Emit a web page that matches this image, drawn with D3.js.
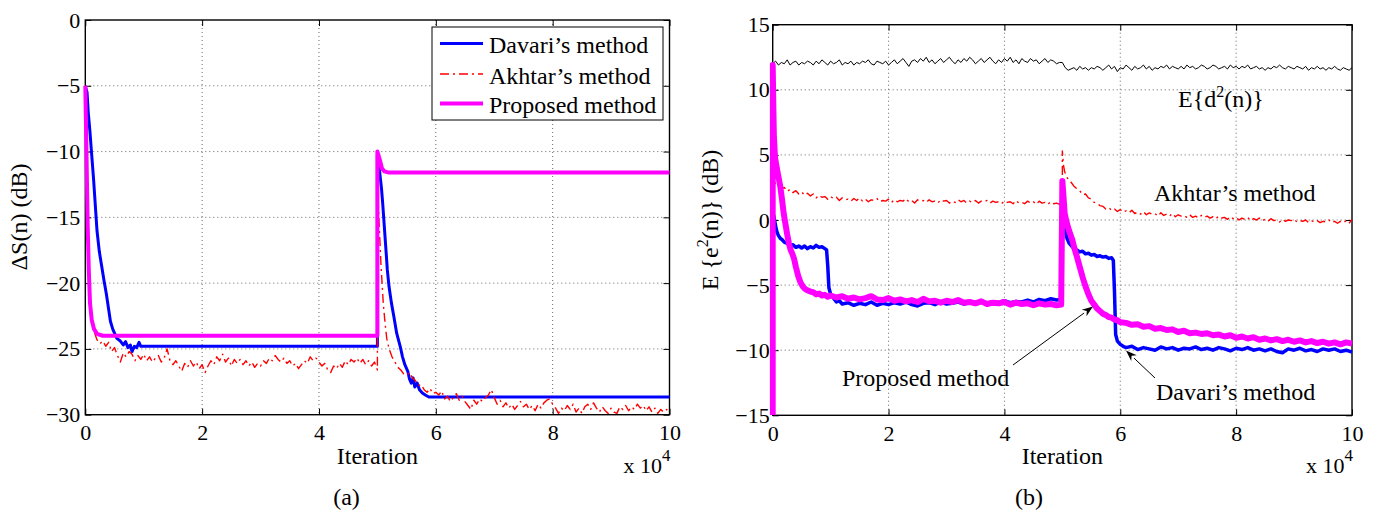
<!DOCTYPE html>
<html>
<head>
<meta charset="utf-8">
<script src="https://cdn.jsdelivr.net/npm/d3@7"></script>
<style>
  body { margin: 0; background: #fff; }
  svg { display: block; }
  text { font-family: "Liberation Serif", "Times New Roman", serif; fill: #000; }
</style>
</head>
<body>
<svg id="fig" width="1378" height="512"></svg>
<script>
// ---------- shared ticks (x in units of 10^4 iterations) ----------
const xTicks = [0, 2, 4, 6, 8, 10];
const yTicksA = [-30, -25, -20, -15, -10, -5, 0];
const yTicksB = [-15, -10, -5, 0, 5, 10, 15];

// ---------- panel (a): ΔS(n) in dB ----------
const davariA = [[0,-5],[0.03,-5.5],[0.05,-7],[0.08,-8.5],[0.1,-9.7],[0.14,-12],[0.17,-14],[0.2,-16],[0.24,-17.6],
  [0.28,-18.7],[0.32,-19.8],[0.36,-20.8],[0.4,-22],[0.43,-22.9],[0.47,-23.5],[0.54,-24.2],[0.6,-24.4],[0.65,-24.7],
  [0.69,-24.45],[0.73,-24.9],[0.77,-24.7],[0.8,-25.2],[0.84,-24.8],[0.88,-24.9],[0.92,-24.5],[0.95,-24.8],[5.0,-24.8],
  [5.0,-10.2],[5.02,-10.5],[5.04,-11.6],[5.07,-12.8],[5.09,-13.9],[5.12,-15.8],[5.15,-17.7],[5.17,-19],[5.2,-20.3],
  [5.24,-21.5],[5.28,-22.5],[5.33,-23.8],[5.39,-24.8],[5.43,-25.6],[5.47,-26.2],[5.52,-26.7],[5.55,-27.3],[5.58,-27.6],
  [5.61,-27.2],[5.64,-27.9],[5.68,-27.6],[5.72,-28.1],[5.77,-28.35],[5.82,-28.5],[5.88,-28.65],[10,-28.65]];

const akhtarA = [[0,-5],[0.02,-9],[0.04,-13.5],[0.06,-17.5],[0.08,-20.5],[0.1,-22.2],[0.13,-23.3],[0.16,-23.8],
  [0.2,-24.3],[0.25,-24.6],[0.3,-24.4],[0.35,-24.8],[0.4,-24.5],[0.45,-25.2],[0.5,-24.9],[0.55,-25.5],[0.6,-26.0],
  [0.65,-25.3],[0.7,-25.6],[0.75,-25.2],[0.8,-25.4],[0.85,-25.9],[0.9,-25.5],[0.95,-25.8],[1.0,-25.4],[1.05,-25.9],
  [1.1,-25.6],[1.15,-26.0],[1.2,-25.7],[1.25,-25.5],[1.3,-26.0],[1.35,-25.7],[1.4,-25.0],[1.45,-25.9],[1.5,-26.2],
  [1.55,-25.9],[1.6,-26.3],[1.65,-26.7],[1.7,-26.1],[1.75,-26.4],[1.8,-25.9],[1.85,-26.3],[1.9,-26.0],[1.95,-26.5],
  [2.0,-26.2],[2.05,-26.8],[2.1,-26.3],[2.15,-25.9],[2.2,-26.2],[2.25,-25.6],[2.3,-25.9],[2.35,-25.4],[2.4,-26.0],
  [2.45,-25.7],[2.5,-26.3],[2.55,-25.8],[2.6,-26.1],[2.65,-25.8],[2.7,-26.2],[2.75,-25.9],[2.8,-26.3],[2.85,-26.0],
  [2.9,-26.4],[2.95,-26.1],[3.0,-26.3],[3.05,-25.9],[3.1,-26.1],[3.15,-25.7],[3.2,-25.9],[3.25,-25.5],[3.3,-25.8],
  [3.35,-26.0],[3.4,-25.7],[3.45,-26.1],[3.5,-25.9],[3.55,-26.3],[3.6,-26.1],[3.65,-26.5],[3.7,-26.2],[3.75,-25.9],
  [3.8,-26.1],[3.85,-25.6],[3.9,-25.9],[3.95,-25.7],[4.0,-26.0],[4.05,-26.3],[4.1,-26.1],[4.15,-26.6],[4.2,-26.8],
  [4.25,-26.3],[4.3,-26.5],[4.35,-26.1],[4.4,-26.4],[4.45,-25.9],[4.5,-26.2],[4.55,-25.8],[4.6,-26.0],[4.65,-25.7],
  [4.7,-26.1],[4.75,-25.8],[4.8,-26.2],[4.85,-25.9],[4.9,-26.3],[4.95,-26.0],[5.0,-26.6],
  [5.0,-12],[5.02,-14.5],[5.04,-16.5],[5.06,-18.5],[5.08,-20],[5.1,-21.5],[5.13,-23],[5.16,-24.2],[5.2,-25],
  [5.25,-25.6],[5.3,-26],[5.35,-26.4],[5.4,-26.6],[5.45,-26.9],[5.5,-27.0],[5.55,-26.8],[5.6,-27.2],[5.65,-27.4],
  [5.7,-27.8],[5.75,-27.7],[5.8,-28.1],[5.85,-28.3],[5.9,-28.0],[5.95,-28.4],[6.0,-28.3],[6.05,-28.5],[6.1,-28.2],
  [6.15,-28.8],[6.2,-28.6],[6.25,-29.0],[6.3,-28.7],[6.35,-28.4],[6.4,-28.9],[6.45,-28.6],[6.5,-29.0],[6.55,-29.3],
  [6.6,-29.6],[6.65,-28.9],[6.7,-29.2],[6.75,-28.8],[6.8,-29.0],[6.85,-28.7],[6.9,-28.5],[6.95,-28.1],[7.0,-28.7],
  [7.05,-29.2],[7.1,-28.9],[7.15,-29.4],[7.2,-29.1],[7.25,-29.5],[7.3,-29.2],[7.35,-29.6],[7.4,-29.3],[7.45,-29.0],
  [7.5,-29.4],[7.55,-29.2],[7.6,-29.6],[7.65,-29.3],[7.7,-29.7],[7.75,-29.2],[7.8,-29.5],[7.85,-29.1],[7.9,-28.9],
  [7.95,-28.8],[8.0,-29.2],[8.05,-29.5],[8.1,-29.9],[8.15,-29.5],[8.2,-29.7],[8.25,-29.3],[8.3,-29.6],[8.35,-29.2],
  [8.4,-29.8],[8.45,-29.5],[8.5,-29.9],[8.55,-29.4],[8.6,-29.2],[8.65,-29.6],[8.7,-29.1],[8.75,-29.5],[8.8,-29.8],
  [8.85,-29.4],[8.9,-29.7],[8.95,-29.9],[9.0,-29.5],[9.05,-29.8],[9.1,-29.9],[9.15,-29.4],[9.2,-29.6],[9.25,-29.3],
  [9.3,-29.7],[9.35,-29.4],[9.4,-29.6],[9.45,-29.2],[9.5,-29.5],[9.55,-29.3],[9.6,-29.7],[9.65,-29.4],[9.7,-29.8],
  [9.75,-29.5],[9.8,-29.9],[9.85,-29.6],[9.9,-29.8],[9.95,-29.6],[10.0,-29.9]];

const proposedA = [[0,-5],[0.02,-10],[0.04,-15.5],[0.06,-19],[0.08,-21.5],[0.11,-22.8],[0.15,-23.5],[0.2,-23.85],
  [0.3,-24],[5.0,-24],[5.0,-10],[5.04,-10.6],[5.08,-11.3],[5.12,-11.5],[5.2,-11.6],[10,-11.6]];

// ---------- panel (b): E{e^2(n)} in dB ----------
const desiredB = [[0,12.0],[0.05,12.2],[0.1,11.9],[0.15,12.1],[0.2,12.0],[0.25,12.3],[0.3,11.9],[0.35,12.1],[0.4,12.2],[0.45,11.9],
  [0.5,12.1],[0.55,12.0],[0.6,12.2],[0.65,12.1],[0.7,11.9],[0.75,12.2],[0.8,12.0],[0.85,12.3],[0.9,12.1],[0.95,11.9],
  [1.0,12.2],[1.05,12.0],[1.1,12.1],[1.15,12.3],[1.2,11.9],[1.25,12.1],[1.3,12.0],[1.35,12.2],[1.4,11.9],[1.45,12.1],
  [1.5,12.0],[1.55,12.2],[1.6,12.1],[1.65,12.3],[1.7,12.0],[1.75,11.9],[1.8,12.2],[1.85,12.1],[1.9,12.0],[1.95,12.2],
  [2.0,11.9],[2.05,12.1],[2.1,12.3],[2.15,12.0],[2.2,12.2],[2.25,12.4],[2.3,12.1],[2.35,11.8],[2.4,12.2],[2.45,12.3],
  [2.5,12.1],[2.55,12.4],[2.6,12.2],[2.65,12.5],[2.7,12.1],[2.75,12.3],[2.8,12.0],[2.85,12.2],[2.9,12.4],[2.95,12.1],
  [3.0,12.3],[3.05,12.5],[3.1,12.2],[3.15,12.0],[3.2,12.3],[3.25,12.1],[3.3,12.4],[3.35,12.2],[3.4,12.5],[3.45,12.3],
  [3.5,12.0],[3.55,12.2],[3.6,12.4],[3.65,12.1],[3.7,12.3],[3.75,12.5],[3.8,12.2],[3.85,12.0],[3.9,12.3],[3.95,12.1],
  [4.0,12.4],[4.05,12.2],[4.1,12.5],[4.15,12.1],[4.2,12.3],[4.25,12.0],[4.3,12.4],[4.35,12.2],[4.4,12.1],[4.45,12.4],
  [4.5,12.2],[4.55,12.3],[4.6,12.0],[4.65,12.2],[4.7,12.4],[4.75,12.1],[4.8,12.3],[4.85,12.2],[4.9,12.0],[4.95,12.1],
  [5.0,12.1],[5.05,11.7],[5.1,11.5],[5.15,11.6],[5.2,11.7],[5.25,11.5],[5.3,11.8],[5.35,11.6],[5.4,11.7],[5.45,11.5],[5.5,11.7],
  [5.55,11.6],[5.6,11.8],[5.65,11.7],[5.7,11.5],[5.75,11.7],[5.8,11.9],[5.85,11.6],[5.9,11.8],[5.95,11.4],[6.0,11.7],
  [6.05,11.6],[6.1,11.9],[6.15,11.7],[6.2,11.5],[6.25,11.8],[6.3,11.6],[6.35,11.7],[6.4,11.9],[6.45,11.6],[6.5,11.8],
  [6.55,11.5],[6.6,11.7],[6.65,11.6],[6.7,11.8],[6.75,11.7],[6.8,11.9],[6.85,11.6],[6.9,11.8],[6.95,11.7],[7.0,11.6],
  [7.05,11.8],[7.1,11.6],[7.15,11.9],[7.2,11.7],[7.25,11.8],[7.3,11.6],[7.35,11.7],[7.4,11.9],[7.45,11.8],[7.5,11.6],
  [7.55,11.7],[7.6,11.9],[7.65,11.8],[7.7,11.6],[7.75,11.7],[7.8,11.8],[7.85,11.6],[7.9,11.9],[7.95,11.7],[8.0,11.8],
  [8.05,11.6],[8.1,11.8],[8.15,11.7],[8.2,11.9],[8.25,11.6],[8.3,11.7],[8.35,11.8],[8.4,11.6],[8.45,11.7],[8.5,11.5],
  [8.55,11.7],[8.6,11.6],[8.65,11.8],[8.7,11.7],[8.75,11.9],[8.8,11.7],[8.85,11.6],[8.9,11.8],[8.95,11.7],[9.0,11.6],
  [9.05,11.8],[9.1,11.7],[9.15,11.6],[9.2,11.8],[9.25,11.5],[9.3,11.7],[9.35,11.6],[9.4,11.8],[9.45,11.6],[9.5,11.7],
  [9.55,11.5],[9.6,11.7],[9.65,11.6],[9.7,11.8],[9.75,11.6],[9.8,11.5],[9.85,11.7],[9.9,11.6],[9.95,11.5],[10.0,11.7]];

const akhtarB = [[0,3.9],[0.02,3.2],[0.05,2.7],[0.1,2.6],[0.15,2.4],[0.2,2.5],[0.25,2.2],[0.3,2.35],[0.35,2.1],[0.4,2.25],
  [0.45,2.0],[0.5,2.15],[0.55,1.9],[0.6,2.05],[0.65,1.85],[0.7,2.0],[0.75,1.7],[0.8,1.9],[0.85,1.75],[0.9,1.8],
  [0.95,1.6],[1.0,1.8],[1.05,1.65],[1.1,1.75],[1.15,1.5],[1.2,1.7],[1.25,1.55],[1.3,1.6],[1.35,1.45],[1.4,1.65],
  [1.45,1.5],[1.5,1.7],[1.55,1.45],[1.6,1.6],[1.65,1.4],[1.7,1.55],[1.75,1.5],[1.8,1.65],[1.85,1.4],[1.9,1.5],
  [1.95,1.45],[2.0,1.6],[2.05,1.35],[2.1,1.55],[2.15,1.4],[2.2,1.5],[2.25,1.45],[2.3,1.65],[2.35,1.4],[2.4,1.5],
  [2.45,1.3],[2.5,1.55],[2.55,1.45],[2.6,1.5],[2.65,1.35],[2.7,1.55],[2.75,1.4],[2.8,1.45],[2.85,1.3],[2.9,1.55],
  [2.95,1.45],[3.0,1.5],[3.05,1.3],[3.1,1.45],[3.15,1.35],[3.2,1.55],[3.25,1.4],[3.3,1.5],[3.35,1.3],[3.4,1.45],
  [3.45,1.35],[3.5,1.5],[3.55,1.3],[3.6,1.45],[3.65,1.4],[3.7,1.5],[3.75,1.3],[3.8,1.45],[3.85,1.35],[3.9,1.4],
  [3.95,1.25],[4.0,1.45],[4.05,1.35],[4.1,1.4],[4.15,1.25],[4.2,1.5],[4.25,1.3],[4.3,1.35],[4.35,1.25],[4.4,1.45],
  [4.45,1.3],[4.5,1.4],[4.55,1.2],[4.6,1.45],[4.65,1.3],[4.7,1.35],[4.75,1.2],[4.8,1.4],[4.85,1.25],[4.9,1.3],
  [4.95,1.2],[5.0,1.3],[5.0,5.3],[5.02,4.2],[5.04,3.7],[5.07,3.4],[5.1,3.1],[5.15,2.9],[5.2,2.6],[5.25,2.4],
  [5.3,2.25],[5.35,1.95],[5.4,2.0],[5.45,1.7],[5.5,1.6],[5.55,1.35],[5.6,1.3],[5.65,1.1],[5.7,1.05],[5.75,0.85],
  [5.8,0.95],[5.85,0.75],[5.9,0.85],[5.95,0.65],[6.0,0.8],[6.05,0.6],[6.1,0.7],[6.15,0.55],[6.2,0.75],[6.25,0.5],
  [6.3,0.6],[6.35,0.45],[6.4,0.65],[6.45,0.4],[6.5,0.55],[6.55,0.45],[6.6,0.5],[6.65,0.3],[6.7,0.55],[6.75,0.35],
  [6.8,0.45],[6.85,0.3],[6.9,0.5],[6.95,0.25],[7.0,0.4],[7.05,0.3],[7.1,0.35],[7.15,0.2],[7.2,0.4],[7.25,0.2],
  [7.3,0.3],[7.35,0.15],[7.4,0.35],[7.45,0.2],[7.5,0.3],[7.55,0.15],[7.6,0.25],[7.65,0.1],[7.7,0.3],[7.75,0.15],
  [7.8,0.2],[7.85,0.05],[7.9,0.25],[7.95,0.1],[8.0,0.2],[8.05,0.0],[8.1,0.15],[8.15,0.05],[8.2,0.2],[8.25,-0.05],
  [8.3,0.1],[8.35,0.0],[8.4,0.15],[8.45,-0.05],[8.5,0.05],[8.55,-0.1],[8.6,0.1],[8.65,-0.05],[8.7,0.0],[8.75,-0.15],
  [8.8,0.05],[8.85,-0.1],[8.9,0.0],[8.95,-0.05],[9.0,0.05],[9.05,-0.15],[9.1,-0.05],[9.15,-0.1],[9.2,0.0],[9.25,-0.2],
  [9.3,-0.05],[9.35,-0.15],[9.4,-0.05],[9.45,-0.2],[9.5,-0.1],[9.55,-0.15],[9.6,0.0],[9.65,-0.2],[9.7,-0.1],[9.75,-0.25],
  [9.8,-0.1],[9.85,-0.2],[9.9,-0.05],[9.95,-0.25],[10.0,0.05]];

const davariB = [[0,0.5],[0.02,0.3],[0.04,-0.2],[0.06,-0.7],[0.08,-1.0],[0.1,-1.2],[0.13,-1.4],[0.16,-1.5],[0.2,-1.7],
  [0.25,-1.8],[0.3,-1.95],[0.35,-1.9],[0.4,-2.1],[0.45,-2.0],[0.5,-2.15],[0.55,-2.0],[0.6,-2.2],[0.65,-2.05],[0.7,-2.15],
  [0.75,-1.95],[0.8,-2.1],[0.85,-2.05],[0.9,-2.2],[0.93,-2.3],[0.95,-3.5],[0.97,-5.2],[1.0,-5.7],[1.05,-6.0],[1.1,-6.3],
  [1.15,-6.2],[1.2,-6.45],[1.3,-6.35],[1.4,-6.55],[1.5,-6.4],[1.6,-6.5],[1.7,-6.3],[1.8,-6.55],[1.9,-6.4],[2.0,-6.5],
  [2.1,-6.35],[2.2,-6.45],[2.3,-6.3],[2.4,-6.5],[2.5,-6.6],[2.6,-6.4],[2.7,-6.35],[2.8,-6.5],[2.9,-6.3],[3.0,-6.45],
  [3.1,-6.4],[3.2,-6.3],[3.3,-6.45],[3.4,-6.35],[3.5,-6.4],[3.6,-6.25],[3.7,-6.4],[3.8,-6.3],[3.9,-6.35],[4.0,-6.2],
  [4.1,-6.35],[4.2,-6.25],[4.3,-6.3],[4.4,-6.15],[4.5,-6.3],[4.6,-6.1],[4.7,-6.2],[4.8,-6.05],[4.9,-6.15],[4.98,-6.1],
  [5.0,0.3],[5.02,-0.3],[5.05,-0.9],[5.08,-1.4],[5.12,-1.8],[5.16,-2.0],[5.2,-2.2],[5.25,-2.3],[5.3,-2.45],[5.35,-2.4],
  [5.4,-2.6],[5.45,-2.55],[5.5,-2.7],[5.55,-2.65],[5.6,-2.8],[5.65,-2.75],[5.7,-2.85],[5.75,-2.8],[5.8,-2.95],[5.85,-2.9],
  [5.88,-3.1],[5.9,-5.5],[5.92,-8.8],[5.95,-9.3],[6.0,-9.55],[6.05,-9.7],[6.1,-9.8],[6.2,-9.7],[6.3,-9.95],[6.4,-9.8],
  [6.5,-9.9],[6.6,-10.0],[6.7,-9.75],[6.8,-9.9],[6.9,-9.8],[7.0,-10.0],[7.1,-9.85],[7.2,-9.9],[7.3,-9.75],[7.4,-9.95],
  [7.5,-9.85],[7.6,-10.0],[7.7,-9.8],[7.8,-9.9],[7.9,-10.05],[8.0,-9.85],[8.1,-9.95],[8.2,-9.8],[8.3,-10.0],[8.4,-9.9],
  [8.5,-10.05],[8.6,-9.9],[8.7,-10.1],[8.8,-10.2],[8.9,-9.9],[9.0,-10.0],[9.1,-9.85],[9.2,-10.05],[9.3,-9.95],[9.4,-10.1],
  [9.5,-9.9],[9.6,-10.0],[9.7,-9.9],[9.8,-10.1],[9.9,-10.0],[10.0,-10.15]];

const proposedB = [[0,-15],[0,11.9],[0.01,9.0],[0.02,6.5],[0.04,4.8],[0.07,4.0],[0.1,3.3],[0.13,2.6],[0.16,1.6],
  [0.19,0.5],[0.22,-0.3],[0.25,-1.1],[0.28,-1.8],[0.31,-2.3],[0.34,-2.6],[0.37,-3.0],[0.4,-3.6],[0.44,-4.3],[0.48,-4.8],
  [0.52,-5.1],[0.56,-5.3],[0.6,-5.4],[0.65,-5.5],[0.7,-5.55],[0.75,-5.7],[0.8,-5.65],[0.85,-5.8],[0.9,-5.75],[0.95,-5.9],
  [1.0,-5.8],[1.1,-5.95],[1.2,-5.85],[1.3,-6.05],[1.4,-5.95],[1.5,-6.1],[1.6,-6.0],[1.7,-5.85],[1.8,-6.1],[1.9,-6.15],
  [2.0,-6.0],[2.1,-6.2],[2.2,-6.1],[2.3,-6.25],[2.4,-6.15],[2.5,-6.3],[2.6,-6.05],[2.7,-6.25],[2.8,-6.2],[2.9,-6.35],
  [3.0,-6.2],[3.1,-6.3],[3.2,-6.15],[3.3,-6.35],[3.4,-6.3],[3.5,-6.4],[3.6,-6.25],[3.7,-6.45],[3.8,-6.35],[3.9,-6.4],
  [4.0,-6.3],[4.1,-6.5],[4.2,-6.35],[4.3,-6.45],[4.4,-6.4],[4.5,-6.55],[4.6,-6.4],[4.7,-6.5],[4.8,-6.45],[4.9,-6.55],
  [4.98,-6.5],[5.0,3.0],[5.02,1.8],[5.04,0.5],[5.07,-0.1],[5.1,-0.6],[5.13,-1.0],[5.17,-1.5],[5.21,-2.2],[5.25,-2.8],
  [5.3,-3.6],[5.35,-4.4],[5.4,-5.1],[5.45,-5.7],[5.5,-6.2],[5.55,-6.5],[5.6,-6.8],[5.65,-7.0],[5.7,-7.2],[5.75,-7.3],
  [5.8,-7.45],[5.85,-7.5],[5.9,-7.65],[5.95,-7.7],[6.0,-7.85],[6.1,-7.9],[6.2,-8.05],[6.3,-8.0],[6.4,-8.2],[6.5,-8.15],
  [6.6,-8.35],[6.7,-8.3],[6.8,-8.45],[6.9,-8.4],[7.0,-8.6],[7.1,-8.5],[7.2,-8.7],[7.3,-8.65],[7.4,-8.75],[7.5,-8.7],
  [7.6,-8.85],[7.7,-8.8],[7.8,-8.95],[7.9,-8.85],[8.0,-9.05],[8.1,-8.95],[8.2,-9.1],[8.3,-9.0],[8.4,-9.2],[8.5,-9.1],
  [8.6,-9.25],[8.7,-9.15],[8.8,-9.3],[8.9,-9.2],[9.0,-9.35],[9.1,-9.25],[9.2,-9.4],[9.3,-9.3],[9.4,-9.45],[9.5,-9.35],
  [9.6,-9.5],[9.7,-9.4],[9.8,-9.55],[9.9,-9.4],[10.0,-9.5]];

const legendLabels = ["Davari\u2019s method", "Akhtar\u2019s method", "Proposed method"];

// ---------- drawing ----------
const SERIF = '"Liberation Serif", "Times New Roman", serif';
const svg = d3.select("#fig");
const BLUE = "#0000ff", RED = "#ff0000", MAGENTA = "#ff00ff";
const DASHDOT = "9,4,2,4";

function panel(box, yDomain, yTicks, yPad, id) {
  const x = d3.scaleLinear().domain([0, 10]).range([box.left, box.right]);
  const y = d3.scaleLinear().domain(yDomain).range([box.bottom, box.top]);
  const g = svg.append("g");

  // dotted grid
  const grid = g.append("g").attr("stroke", "#666").attr("stroke-width", 1).attr("stroke-dasharray", "1,3");
  grid.selectAll("line.v").data(xTicks.filter(v => v > 0 && v < 10)).join("line")
    .attr("x1", d => x(d)).attr("x2", d => x(d)).attr("y1", box.top).attr("y2", box.bottom);
  grid.selectAll("line.h").data(yTicks.filter(v => v > yDomain[0] && v < yDomain[1])).join("line")
    .attr("x1", box.left).attr("x2", box.right).attr("y1", d => y(d)).attr("y2", d => y(d));

  const fmt = d3.format("d");
  const styleAxis = sel => {
    sel.attr("font-family", null).attr("font-size", null);
    sel.select(".domain").remove();
    sel.selectAll(".tick line").attr("stroke", "#000").attr("stroke-width", 1);
    sel.selectAll(".tick text").style("font-size", "22px").style("font-family", SERIF).attr("fill", "#000");
  };
  g.append("g").attr("transform", `translate(0,${box.bottom})`)
    .call(d3.axisBottom(x).tickValues(xTicks).tickFormat(fmt).tickSizeInner(-6).tickSizeOuter(0).tickPadding(10))
    .call(styleAxis);
  g.append("g").attr("transform", `translate(${box.left},0)`)
    .call(d3.axisLeft(y).tickValues(yTicks).tickFormat(fmt).tickSizeInner(-6).tickSizeOuter(0).tickPadding(yPad))
    .call(styleAxis);
  g.append("g").attr("transform", `translate(0,${box.top})`)
    .call(d3.axisTop(x).tickValues(xTicks).tickFormat("").tickSizeInner(-6).tickSizeOuter(0))
    .call(styleAxis);
  g.append("g").attr("transform", `translate(${box.right},0)`)
    .call(d3.axisRight(y).tickValues(yTicks).tickFormat("").tickSizeInner(-6).tickSizeOuter(0))
    .call(styleAxis);

  g.append("rect").attr("x", box.left).attr("y", box.top)
    .attr("width", box.right - box.left).attr("height", box.bottom - box.top)
    .attr("fill", "none").attr("stroke", "#000").attr("stroke-width", 1.4);

  svg.append("clipPath").attr("id", id).append("rect")
    .attr("x", box.left - 3).attr("y", box.top - 1)
    .attr("width", box.right - box.left + 6).attr("height", box.bottom - box.top + 1);
  const data = g.append("g").attr("clip-path", `url(#${id})`);

  const line = d3.line().x(d => x(d[0])).y(d => y(d[1]));
  const draw = (pts, color, width, dash) => {
    const p = data.append("path").datum(pts).attr("d", line)
      .attr("fill", "none").attr("stroke", color).attr("stroke-width", width)
      .attr("stroke-linejoin", "round");
    if (dash) p.attr("stroke-dasharray", dash);
  };

  // axis titles
  g.append("text").attr("x", (box.left + box.right) / 2).attr("y", 464)
    .attr("text-anchor", "middle").attr("font-size", 24).text("Iteration");
  const sci = g.append("text").attr("x", box.right + 1).attr("y", 473)
    .attr("text-anchor", "end").attr("font-size", 22);
  sci.append("tspan").text("x 10");
  sci.append("tspan").attr("dy", -12).attr("font-size", 17).text("4");

  return { x, y, g, draw };
}

// ----- (a) -----
const A = panel({ left: 85.3, right: 669.5, top: 20, bottom: 414.7 }, [-30, 0], yTicksA, 5, "clipA");
A.draw(davariA, BLUE, 3);
A.draw(akhtarA, RED, 1.4, DASHDOT);
A.draw(proposedA, MAGENTA, 4);

A.g.append("text").attr("transform", "translate(27,217) rotate(-90)")
  .attr("text-anchor", "middle").attr("font-size", 24).text("\u0394S(n) (dB)");
A.g.append("text").attr("x", 346.5).attr("y", 505).attr("text-anchor", "middle")
  .attr("font-size", 24).text("(a)");

// legend
const leg = A.g.append("g");
leg.append("rect").attr("x", 432).attr("y", 27).attr("width", 231).attr("height", 93)
  .attr("fill", "#fff").attr("stroke", "#000").attr("stroke-width", 1);
const legStyle = [
  { color: BLUE, width: 3, dash: null },
  { color: RED, width: 1.4, dash: DASHDOT },
  { color: MAGENTA, width: 4, dash: null }
];
const legY = [43.5, 74, 103.5];
legendLabels.forEach((lab, i) => {
  const s = legStyle[i];
  const l = leg.append("line").attr("x1", 440).attr("x2", 483).attr("y1", legY[i]).attr("y2", legY[i])
    .attr("stroke", s.color).attr("stroke-width", s.width);
  if (s.dash) l.attr("stroke-dasharray", s.dash);
  leg.append("text").attr("x", 489).attr("y", legY[i] + 9.5).attr("font-size", 24).text(lab);
});

// ----- (b) -----
const B = panel({ left: 772.7, right: 1352, top: 24.7, bottom: 415.3 }, [-15, 15], yTicksB, 3, "clipB");
B.draw(desiredB, "#000", 1);
B.draw(akhtarB, RED, 1.4, DASHDOT);
B.draw(davariB, BLUE, 3.5);
B.draw(proposedB, MAGENTA, 6);

const yl = B.g.append("text").attr("transform", "translate(718,220) rotate(-90)")
  .attr("text-anchor", "middle").attr("font-size", 24);
yl.append("tspan").text("E {e");
yl.append("tspan").attr("dy", -10).attr("font-size", 16).text("2");
yl.append("tspan").attr("dy", 10).text("(n)} (dB)");

B.g.append("text").attr("x", 1029).attr("y", 505).attr("text-anchor", "middle")
  .attr("font-size", 24).text("(b)");

const ed = B.g.append("text").attr("x", 1178).attr("y", 107).attr("font-size", 24);
ed.append("tspan").text("E{d");
ed.append("tspan").attr("dy", -10).attr("font-size", 16).text("2");
ed.append("tspan").attr("dy", 10).text("(n)}");

B.g.append("text").attr("x", 1154).attr("y", 201).attr("font-size", 24).text("Akhtar\u2019s method");
B.g.append("text").attr("x", 842).attr("y", 386).attr("font-size", 24).text("Proposed method");
B.g.append("text").attr("x", 1156).attr("y", 400).attr("font-size", 24).text("Davari\u2019s method");

// annotation arrows
function arrow(x1, y1, x2, y2) {
  const ang = Math.atan2(y2 - y1, x2 - x1);
  const len = 11, half = 4;
  const bx = x2 - len * Math.cos(ang), by = y2 - len * Math.sin(ang);
  B.g.append("line").attr("x1", x1).attr("y1", y1).attr("x2", bx).attr("y2", by)
    .attr("stroke", "#000").attr("stroke-width", 1);
  const px = -Math.sin(ang) * half, py = Math.cos(ang) * half;
  B.g.append("path")
    .attr("d", `M${x2},${y2}L${bx + px},${by + py}L${bx + 0.3 * len * Math.cos(ang)},${by + 0.3 * len * Math.sin(ang)}L${bx - px},${by - py}Z`)
    .attr("fill", "#000");
}
arrow(1013, 365, 1093, 306.5);
arrow(1155, 378, 1126, 350.5);
</script>
</body>
</html>
